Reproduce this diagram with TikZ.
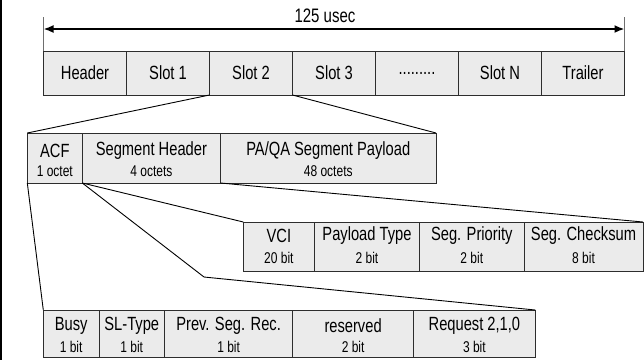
\documentclass[tikz,border=0pt]{standalone}
\usepackage{fontspec}
\setmainfont{Liberation Sans}
\usetikzlibrary{arrows.meta}
\definecolor{cellfill}{RGB}{235,235,235}
\definecolor{cellline}{RGB}{45,45,45}
\definecolor{tickgray}{RGB}{110,110,110}
\newcommand\mtx[1]{\scalebox{1}[1.3]{\fontsize{14.7}{16}\selectfont #1}}
\newcommand\stx[1]{\scalebox{1}[1.3]{\fontsize{12}{14}\selectfont #1}}
% name, x1, y1, x2, y2
\newcommand\mkcell[5]{\node[cellbox, minimum width={#4pt-#2pt}, minimum height={#5pt-#3pt}] (#1) at ({(#2+#4)/2},{(#3+#5)/2}) {};}
% name, main, sub, dy main, dy sub
\newcommand\mktext[5]{\path (#1.north) ++(0,#4) node[lbl] {\mtx{#2}}; \path (#1.north) ++(0,#5) node[lbl] {\stx{#3}};}
\tikzset{
  cellbox/.style={rectangle, draw=cellline, fill=cellfill, line width=0.9pt, inner sep=0pt, outer sep=0pt},
  lbl/.style={inner sep=0pt, outer sep=0pt},
  conn/.style={draw=black, line width=0.9pt},
  tickln/.style={draw=tickgray, line width=0.9pt},
  dimarrow/.style={draw=black, line width=1.8pt, {Latex[length=10pt,width=8pt]}-{Latex[length=10pt,width=8pt]}}
}
\begin{document}
\begin{tikzpicture}[x=1pt,y=-1pt]
\useasboundingbox (0,0) rectangle (644,360);
\fill[black] (0,0) rectangle (1.8,360);

% row 1
\mkcell{hdr}{43.5}{51}{126.5}{95}
\mkcell{s1}{126.5}{51}{209.5}{95}
\mkcell{s2}{209.5}{51}{292.5}{95}
\mkcell{s3}{292.5}{51}{375.5}{95}
\mkcell{dots}{375.5}{51}{458.5}{95}
\mkcell{sn}{458.5}{51}{541.5}{95}
\mkcell{trl}{541.5}{51}{624.5}{95}
\node[lbl] at (hdr) {\mtx{Header}};
\node[lbl] at (s1) {\mtx{Slot 1}};
\node[lbl] at (s2) {\mtx{Slot 2}};
\node[lbl] at (s3) {\mtx{Slot 3}};
\node[lbl] at (dots) {\mtx{.........}};
\node[lbl] at (sn) {\mtx{Slot N}};
\node[lbl] at (trl) {\mtx{Trailer}};

% dimension arrow
\coordinate (tL) at (43.5,17);
\coordinate (tR) at (624.5,17);
\coordinate (aL) at (43.5,29);
\coordinate (aR) at (624.5,29);
\draw[tickln] (tL) -- (hdr.north west);
\draw[tickln] (tR) -- (trl.north east);
\draw[dimarrow] (aL) -- (aR);
\node[lbl] (dur) at (325,15.5) {\scalebox{1}[1.3]{\fontsize{15}{16}\selectfont 125 usec}};

% row 2
\mkcell{acf}{27.3}{133}{82.3}{183}
\mkcell{sh}{82.3}{133}{220.5}{183}
\mkcell{pa}{220.5}{133}{436}{183}
\mktext{acf}{ACF}{1 octet}{18}{38.5}
\mktext{sh}{Segment Header}{4 octets}{18}{38.5}
\mktext{pa}{PA/QA Segment Payload}{48 octets}{18}{38.5}

% row 3
\mkcell{vci}{243.3}{222}{314.5}{271}
\mkcell{pt}{314.5}{222}{419.5}{271}
\mkcell{sp}{419.5}{222}{524}{271}
\mkcell{chk}{524}{222}{643}{271}
\mktext{vci}{VCI}{20 bit}{14}{36}
\mktext{pt}{Payload Type}{2 bit}{14}{36}
\mktext{sp}{Seg. Priority}{2 bit}{14}{36}
\mktext{chk}{Seg. Checksum}{8 bit}{14}{36}

% row 4
\mkcell{busy}{43.3}{310}{99}{357}
\mkcell{slt}{99}{310}{164.5}{357}
\mkcell{psr}{164.5}{310}{292.7}{357}
\mkcell{res}{292.7}{310}{413.5}{357}
\mkcell{req}{413.5}{310}{535.3}{357}
\mktext{busy}{Busy}{1 bit}{16}{37}
\mktext{slt}{SL-Type}{1 bit}{16}{37}
\mktext{psr}{Prev. Seg. Rec.}{1 bit}{16}{37}
\mktext{res}{reserved}{2 bit}{16}{37}
\mktext{req}{Request 2,1,0}{3 bit}{16}{37}

% connectors
\coordinate (bend) at (204,277);
\draw[conn] (s2.south west) -- (acf.north west);
\draw[conn] (s3.south west) -- (pa.north east);
\draw[conn] (sh.south west) -- (vci.north west);
\draw[conn] (sh.south east) -- (chk.north east);
\draw[conn] (acf.south west) -- (busy.north west);
\draw[conn] (acf.south east) -- (bend) -- (req.north east);
\end{tikzpicture}
\end{document}
